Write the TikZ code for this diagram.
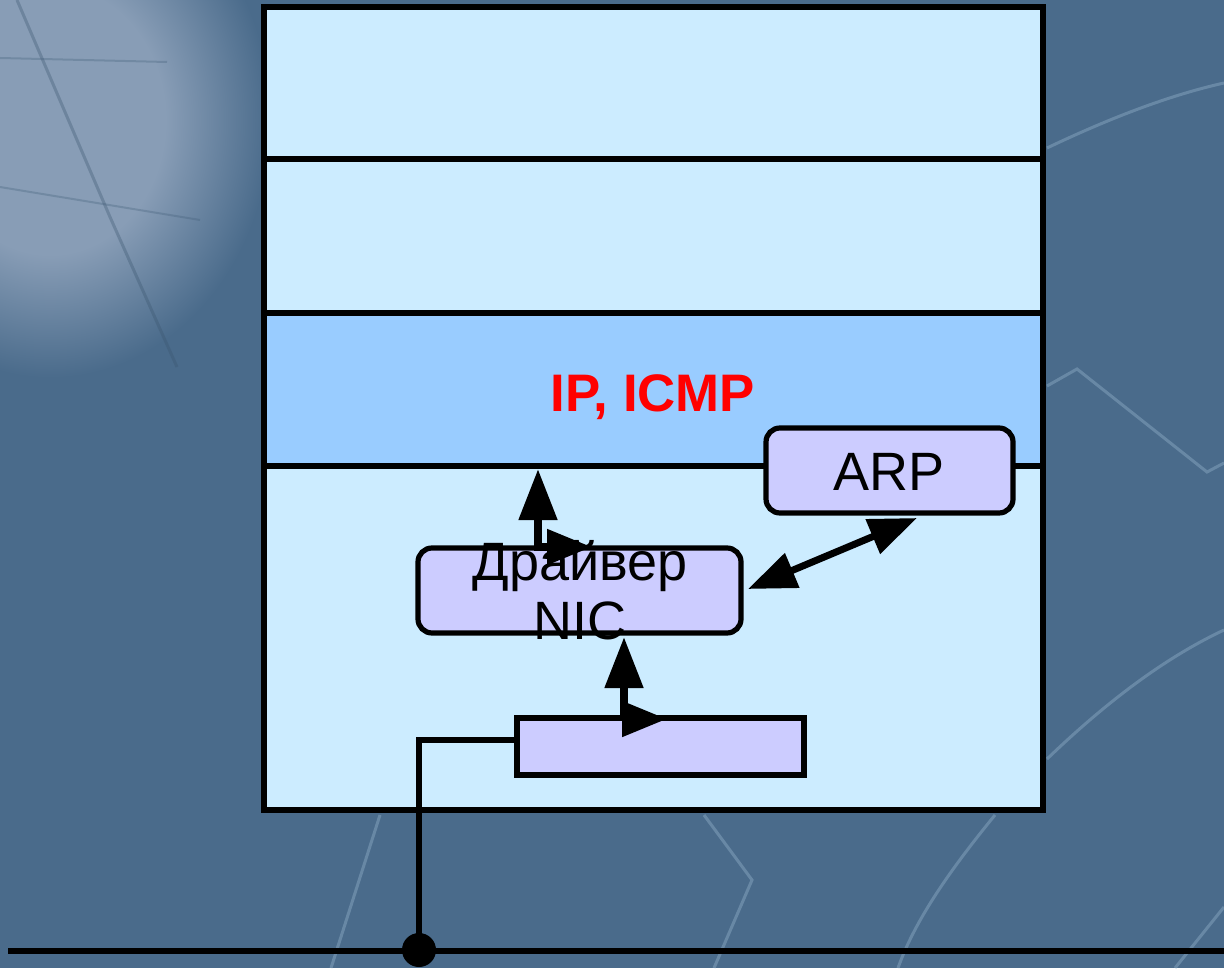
\documentclass[tikz,border=0pt]{standalone}
\usepackage{fontspec}
\setmainfont{Liberation Sans}
\usetikzlibrary{arrows.meta}
\definecolor{bg}{RGB}{74,107,139}
\definecolor{bglight}{RGB}{136,157,182}
\definecolor{deco}{RGB}{150,180,205}
\definecolor{layer}{RGB}{204,236,255}
\definecolor{ipband}{RGB}{153,204,255}
\definecolor{boxc}{RGB}{204,204,255}
\pgfdeclareradialshading{blob}{\pgfpoint{0bp}{0bp}}{color(0bp)=(bglight); color(12bp)=(bglight); color(23bp)=(bg); color(50bp)=(bg)}
\begin{document}
\begin{tikzpicture}[x=0.5pt,y=-0.5pt,
  layerbox/.style={draw=black, line width=2.8pt, fill=layer, minimum width=389.5pt, inner sep=0pt, outer sep=0pt},
  modbox/.style={draw=black, line width=2.6pt, fill=boxc, inner sep=0pt, outer sep=0pt},
  lbl/.style={font=\fontsize{27}{29.5}\selectfont, text=black, inner sep=0pt, align=center},
  decoline/.style={draw=deco, line width=1.5pt, opacity=0.4},
  conn/.style={line width=4pt, {Triangle[length=25.5pt,width=18.5pt]}-{Triangle[length=22.5pt,width=17pt]}},
  wire/.style={line width=3pt, draw=black}
]
% background
\path[use as bounding box] (0,0) rectangle (1224,968);
\fill[bg] (0,0) rectangle (1224,968);
\begin{scope}
\clip (0,0) rectangle (1224,968);
\shade[shading=blob] (50,120) ellipse (240 and 280);
\draw[bg!80!black, line width=1.5pt, opacity=0.35] (17,0) -- (110,217) -- (177,367);
\draw[bg!85!black, line width=1pt, opacity=0.3] (0,58) -- (167,62);
\draw[bg!85!black, line width=1pt, opacity=0.3] (0,187) -- (200,220);
% decorative lines
\draw[decoline] (1047,148) .. controls (1110,118) and (1170,95) .. (1224,83);
\draw[decoline] (1047,386) -- (1077,369) -- (1207,472) -- (1224,463);
\draw[decoline] (1047,759) .. controls (1100,708) and (1160,660) .. (1224,630);
\draw[decoline] (995,815) .. controls (950,870) and (915,920) .. (898,968);
\draw[decoline] (704,815) -- (752,880) -- (714,968);
\draw[decoline] (380,815) -- (331,968);
\draw[decoline] (1224,907) -- (1175,968);
\end{scope}
% protocol stack layers
\node[layerbox, minimum height=76pt] (L1) at (653.5,83) {};
\node[layerbox, minimum height=77pt] (L2) at (653.5,236) {};
\node[layerbox, fill=ipband, minimum height=76.5pt] (L3) at (653.5,389.5) {};
\node[layerbox, minimum height=172pt] (L4) at (653.5,638) {};
\node[font=\bfseries\fontsize{26.4}{32}\selectfont, text=red, inner sep=0pt, anchor=base] (ip) at (653,411) {IP, ICMP};
% modules
\node[modbox, rounded corners=7pt, minimum width=123.5pt, minimum height=42.5pt] (ARP) at (889.5,470.5) {};
\node[lbl, anchor=base] (arptext) at (889,490) {ARP};
\node[modbox, rounded corners=7pt, minimum width=161.5pt, minimum height=42.5pt] (DRV) at (579.5,590.5) {};
\node[lbl] (drvtext) at (580,590) {Драйвер\\NIC};
\node[modbox, minimum width=143.5pt, minimum height=28.5pt] (NIC) at (660.5,746.5) {};
% connectors
\coordinate (a1) at (538,469);
\coordinate (a1e) at (592,547);
\draw[conn] (a1) |- (a1e);
\coordinate (a2) at (624,637);
\coordinate (a2e) at (667,719);
\draw[conn] (a2) |- (a2e);
\coordinate (r1) at (748,589);
\coordinate (r2) at (917,518);
\draw[line width=3.5pt, {Triangle[length=24pt,width=18pt]}-{Triangle[length=24pt,width=18pt]}] (r1) -- (r2);
% network wiring
\coordinate (c1) at (517,740);
\node[circle, fill=black, inner sep=0pt, minimum size=17pt] (dot) at (419,950) {};
\coordinate (busL) at (8,951);
\coordinate (busR) at (1224,951);
\draw[wire] (busL) -- (busR);
\draw[wire] (c1) -| (dot.center);
\end{tikzpicture}
\end{document}
